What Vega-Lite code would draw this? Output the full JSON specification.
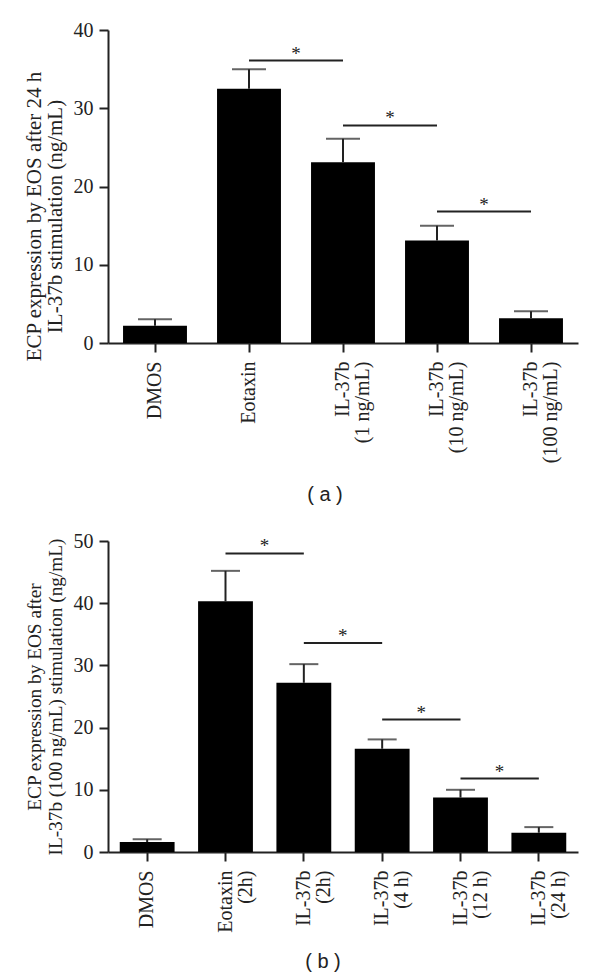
{
  "$schema": "https://vega.github.io/schema/vega-lite/v6.json",
  "background": "white",
  "padding": {"left": 23, "top": 20, "right": 5, "bottom": 5},
  "config": {
    "view": {"stroke": null},
    "font": "Liberation Serif",
    "axis": {
      "grid": false,
      "domainColor": "#222222",
      "domainWidth": 2,
      "tickColor": "#222222",
      "tickWidth": 2,
      "tickSize": 9,
      "labelFont": "Liberation Serif",
      "labelFontSize": 20,
      "labelColor": "#222222",
      "titleFont": "Liberation Serif",
      "titleFontSize": 21,
      "titleFontWeight": "normal",
      "titleColor": "#222222"
    }
  },
  "datasets": {
    "a": [
      {"group": "DMOS", "mean": 2.2, "upper": 3.05},
      {"group": "Eotaxin", "mean": 32.5, "upper": 35.0},
      {"group": "IL-37b|(1 ng/mL)", "mean": 23.1, "upper": 26.1},
      {"group": "IL-37b|(10 ng/mL)", "mean": 13.1, "upper": 15.0},
      {"group": "IL-37b|(100 ng/mL)", "mean": 3.15, "upper": 4.05}
    ],
    "siga": [
      {"from": "Eotaxin", "to": "IL-37b|(1 ng/mL)", "y": 36.1},
      {"from": "IL-37b|(1 ng/mL)", "to": "IL-37b|(10 ng/mL)", "y": 27.8},
      {"from": "IL-37b|(10 ng/mL)", "to": "IL-37b|(100 ng/mL)", "y": 16.8}
    ],
    "b": [
      {"group": "DMOS", "mean": 1.6, "upper": 2.05},
      {"group": "Eotaxin|(2h)", "mean": 40.3, "upper": 45.2},
      {"group": "IL-37b|(2h)", "mean": 27.2, "upper": 30.2},
      {"group": "IL-37b|(4 h)", "mean": 16.6, "upper": 18.1},
      {"group": "IL-37b|(12 h)", "mean": 8.75, "upper": 10.0},
      {"group": "IL-37b|(24 h)", "mean": 3.1, "upper": 4.0}
    ],
    "sigb": [
      {"from": "Eotaxin|(2h)", "to": "IL-37b|(2h)", "y": 48.0},
      {"from": "IL-37b|(2h)", "to": "IL-37b|(4 h)", "y": 33.6},
      {"from": "IL-37b|(4 h)", "to": "IL-37b|(12 h)", "y": 21.3},
      {"from": "IL-37b|(12 h)", "to": "IL-37b|(24 h)", "y": 11.8}
    ]
  },
  "spacing": 26,
  "vconcat": [
    {
      "width": 470,
      "height": 313,
      "title": {"text": "( a )", "orient": "bottom", "font": "Liberation Sans", "fontSize": 20, "fontWeight": "normal", "color": "#222222", "offset": 22, "dx": -18},
      "layer": [
        {
          "data": {"name": "a"},
          "mark": {"type": "bar", "color": "black"},
          "encoding": {
            "x": {
              "field": "group", "type": "nominal",
              "scale": {"domain": ["DMOS", "Eotaxin", "IL-37b|(1 ng/mL)", "IL-37b|(10 ng/mL)", "IL-37b|(100 ng/mL)"], "paddingInner": 0.32, "paddingOuter": 0.16},
              "axis": {"title": null, "labelAngle": 270, "labelAlign": "right", "labelBaseline": "middle", "labelPadding": 9, "labelLineHeight": 20, "labelExpr": "split(datum.label, '|')"}
            },
            "y": {
              "field": "mean", "type": "quantitative",
              "scale": {"domain": [0, 40], "nice": false},
              "axis": {"values": [0, 10, 20, 30, 40], "title": ["ECP expression by EOS after 24 h", "IL-37b stimulation (ng/mL)"], "titleY": 186, "labelPadding": 6, "titlePadding": 8, "titleLineHeight": 21}
            }
          }
        },
        {
          "data": {"name": "a"},
          "mark": {"type": "rule", "color": "#222222", "strokeWidth": 2},
          "encoding": {
            "x": {"field": "group", "type": "nominal"},
            "y": {"field": "mean", "type": "quantitative"},
            "y2": {"field": "upper"}
          }
        },
        {
          "data": {"name": "a"},
          "mark": {"type": "tick", "color": "#222222", "size": 34, "thickness": 2},
          "encoding": {
            "x": {"field": "group", "type": "nominal"},
            "y": {"field": "upper", "type": "quantitative"}
          }
        },
        {
          "data": {"name": "siga"},
          "mark": {"type": "rule", "color": "#222222", "strokeWidth": 2},
          "encoding": {
            "x": {"field": "from", "type": "nominal"},
            "x2": {"field": "to"},
            "y": {"field": "y", "type": "quantitative"}
          }
        },
        {
          "data": {"name": "siga"},
          "mark": {"type": "text", "text": "*", "dx": 47, "dy": -1, "baseline": "alphabetic", "fontSize": 19, "font": "Liberation Serif", "color": "#222222"},
          "encoding": {
            "x": {"field": "from", "type": "nominal"},
            "y": {"field": "y", "type": "quantitative"}
          }
        }
      ]
    },
    {
      "width": 470,
      "height": 311,
      "title": {"text": "( b )", "orient": "bottom", "font": "Liberation Sans", "fontSize": 20, "fontWeight": "normal", "color": "#222222", "offset": 20, "dx": -20},
      "layer": [
        {
          "data": {"name": "b"},
          "mark": {"type": "bar", "color": "black"},
          "encoding": {
            "x": {
              "field": "group", "type": "nominal",
              "scale": {"domain": ["DMOS", "Eotaxin|(2h)", "IL-37b|(2h)", "IL-37b|(4 h)", "IL-37b|(12 h)", "IL-37b|(24 h)"], "paddingInner": 0.3, "paddingOuter": 0.15},
              "axis": {"title": null, "labelAngle": 270, "labelAlign": "right", "labelBaseline": "middle", "labelPadding": 9, "labelLineHeight": 20, "labelExpr": "split(datum.label, '|')"}
            },
            "y": {
              "field": "mean", "type": "quantitative",
              "scale": {"domain": [0, 50], "nice": false},
              "axis": {"values": [0, 10, 20, 30, 40, 50], "title": ["ECP expression by EOS after", "IL-37b (100 ng/mL) stimulation (ng/mL)"], "titleFontSize": 19.3, "labelPadding": 6, "titlePadding": 8, "titleLineHeight": 21}
            }
          }
        },
        {
          "data": {"name": "b"},
          "mark": {"type": "rule", "color": "#222222", "strokeWidth": 2},
          "encoding": {
            "x": {"field": "group", "type": "nominal"},
            "y": {"field": "mean", "type": "quantitative"},
            "y2": {"field": "upper"}
          }
        },
        {
          "data": {"name": "b"},
          "mark": {"type": "tick", "color": "#222222", "size": 29, "thickness": 2},
          "encoding": {
            "x": {"field": "group", "type": "nominal"},
            "y": {"field": "upper", "type": "quantitative"}
          }
        },
        {
          "data": {"name": "sigb"},
          "mark": {"type": "rule", "color": "#222222", "strokeWidth": 2},
          "encoding": {
            "x": {"field": "from", "type": "nominal"},
            "x2": {"field": "to"},
            "y": {"field": "y", "type": "quantitative"}
          }
        },
        {
          "data": {"name": "sigb"},
          "mark": {"type": "text", "text": "*", "dx": 39, "dy": -1, "baseline": "alphabetic", "fontSize": 19, "font": "Liberation Serif", "color": "#222222"},
          "encoding": {
            "x": {"field": "from", "type": "nominal"},
            "y": {"field": "y", "type": "quantitative"}
          }
        }
      ]
    }
  ]
}
